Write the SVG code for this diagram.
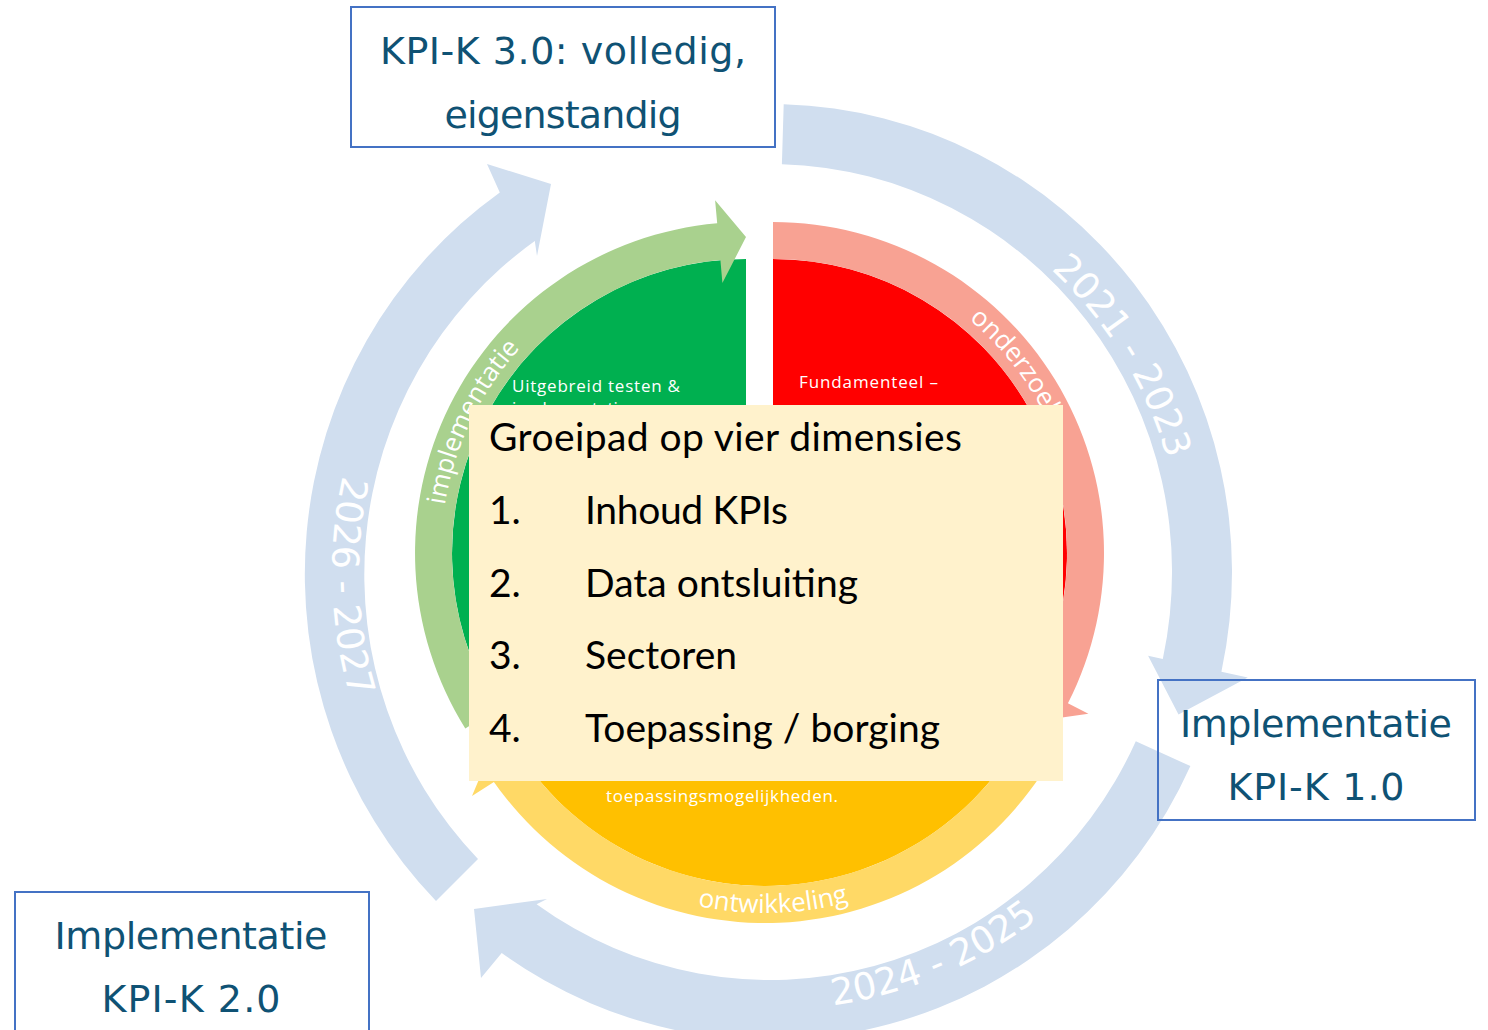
<svg xmlns="http://www.w3.org/2000/svg" width="1488" height="1030" viewBox="0 0 1488 1030">
<style>
.ring{fill:#D0DEEF}
.year{font-family:"DejaVu Sans",sans-serif;font-size:37px;fill:#FFFFFF}
.box{fill:none;stroke:#4472C4;stroke-width:2}
.btxt{font-family:"DejaVu Sans",sans-serif;font-size:38px;fill:#0F5274;text-anchor:middle}
.small{font-family:"Open Sans",sans-serif;font-size:17px;fill:#FFFFFF}
.arc{font-family:"Open Sans",sans-serif;font-size:26px;fill:#FFFFFF}
.ctxt{font-family:Lato,sans-serif;font-size:39px;fill:#000000}
</style>
<defs>
<path id="p1" d="M 963.9,207.3 A 413 413 0 0 1 1182.9,564.8"/>
<path id="p2" d="M 709.1,1005.7 A 438 438 0 0 0 1124.3,829.6"/>
<path id="p3" d="M 386.9,359.7 A 438 438 0 0 0 402.7,810.6"/>
<path id="pg" d="M 444.8,505.3 A 305 305 0 0 1 571.1,303.2"/>
<path id="pr" d="M 969.1,319.4 A 305 305 0 0 1 1078,553"/>
<path id="py" d="M 611.8,874.1 A 321 321 0 0 0 932.7,865.7"/>
</defs>
<g id="connectors">
<path id="arrow-2021" class="ring" d="M 783.7,104.2 A 462 468 0 0 1 1221.4,671.7 L 1247.8,677.5 L 1178.5,714.6 L 1148.1,655.7 L 1162.8,658.9 A 402 408 0 0 0 781.9,164.2 Z"/>
<path id="arrow-2024" class="ring" d="M 1190.4,766.1 A 462 468 0 0 1 501.7,953.0 L 481,978 L 474,909 L 547,899 L 536.6,904.2 A 402 408 0 0 0 1135.8,741.2 Z"/>
<path id="arrow-2026" class="ring" d="M 436,901 A 462 468 0 0 1 499.8,192.4 L 487,164 L 551,184 L 537,256 L 534.8,241.1 A 402 408 0 0 0 478,859 Z"/>
<text class="year"><textPath href="#p1" startOffset="50%" text-anchor="middle">2021 - 2023</textPath></text>
<text class="year"><textPath href="#p2" startOffset="50%" text-anchor="middle">2024 - 2025</textPath></text>
<text class="year"><textPath href="#p3" startOffset="50%" text-anchor="middle">2026 - 2027</textPath></text>
</g>
<g id="implementatie-sector">
<path fill="#00B050" d="M 746,553 L 496.7,708.8 A 294 294 0 0 1 746,259 Z"/>
<path fill="#A9D18E" d="M 465.3,728.4 A 331 331 0 0 1 717.2,223.3 L 715.1,200.3 L 746,237 L 722.4,283 L 720.4,260.1 A 294 294 0 0 0 496.7,708.8 Z"/>
<text class="arc"><textPath href="#pg">implementatie</textPath></text>
<text class="small" x="512" y="392" textLength="168">Uitgebreid testen &amp;</text>
<text class="small" x="512" y="414">implementatie</text>
</g>
<g id="onderzoek-sector">
<path fill="#FF0000" d="M 773,553 L 773,259 A 294 294 0 0 1 1022.3,708.8 Z"/>
<path fill="#F8A293" d="M 773,222 A 331 331 0 0 1 1067.9,703.3 L 1088.4,713.7 L 1041,720.5 L 1014.5,676 L 1035,686.5 A 294 294 0 0 0 773,259 Z"/>
<text class="arc"><textPath href="#pr">onderzoek</textPath></text>
<text class="small" x="799" y="388" textLength="139">Fundamenteel –</text>
</g>
<g id="ontwikkeling-sector">
<path fill="#FFC000" d="M 765,592 L 1019.6,739 A 294 294 0 0 1 510.4,739 Z"/>
<path fill="#FFD966" d="M 1051.7,757.5 A 331 331 0 0 1 493.9,781.9 L 472,796 L 491.3,750 L 543,747.4 L 524.2,760.6 A 294 294 0 0 0 1019.6,739 Z"/>
<text class="arc"><textPath href="#py" startOffset="50%" text-anchor="middle">ontwikkeling</textPath></text>
<text class="small" x="606" y="802" textLength="232">toepassingsmogelijkheden.</text>
</g>
<g id="groeipad">
<rect x="469" y="405" width="594" height="376" fill="#FFF2CC"/>
<text class="ctxt" x="489" y="451" textLength="473">Groeipad op vier dimensies</text>
<text class="ctxt" x="489" y="524">1.</text><text class="ctxt" x="585" y="524" textLength="203">Inhoud KPIs</text>
<text class="ctxt" x="489" y="597">2.</text><text class="ctxt" x="585" y="597" textLength="273">Data ontsluiting</text>
<text class="ctxt" x="489" y="669">3.</text><text class="ctxt" x="585" y="669" textLength="152">Sectoren</text>
<text class="ctxt" x="489" y="742">4.</text><text class="ctxt" x="585" y="742" textLength="355">Toepassing / borging</text>
</g>
<g id="kpi-k-3">
<rect class="box" x="351" y="7" width="424" height="140"/>
<text class="btxt" x="563" y="64" textLength="366">KPI-K 3.0: volledig,</text>
<text class="btxt" x="563" y="128" textLength="237">eigenstandig</text>
</g>
<g id="kpi-k-1">
<rect class="box" x="1158" y="680" width="317" height="140"/>
<text class="btxt" x="1316" y="737" textLength="272">Implementatie</text>
<text class="btxt" x="1316" y="800" textLength="177">KPI-K 1.0</text>
</g>
<g id="kpi-k-2">
<rect class="box" x="15" y="892" width="354" height="150"/>
<text class="btxt" x="191" y="949" textLength="273">Implementatie</text>
<text class="btxt" x="191" y="1012" textLength="179">KPI-K 2.0</text>
</g>
</svg>
